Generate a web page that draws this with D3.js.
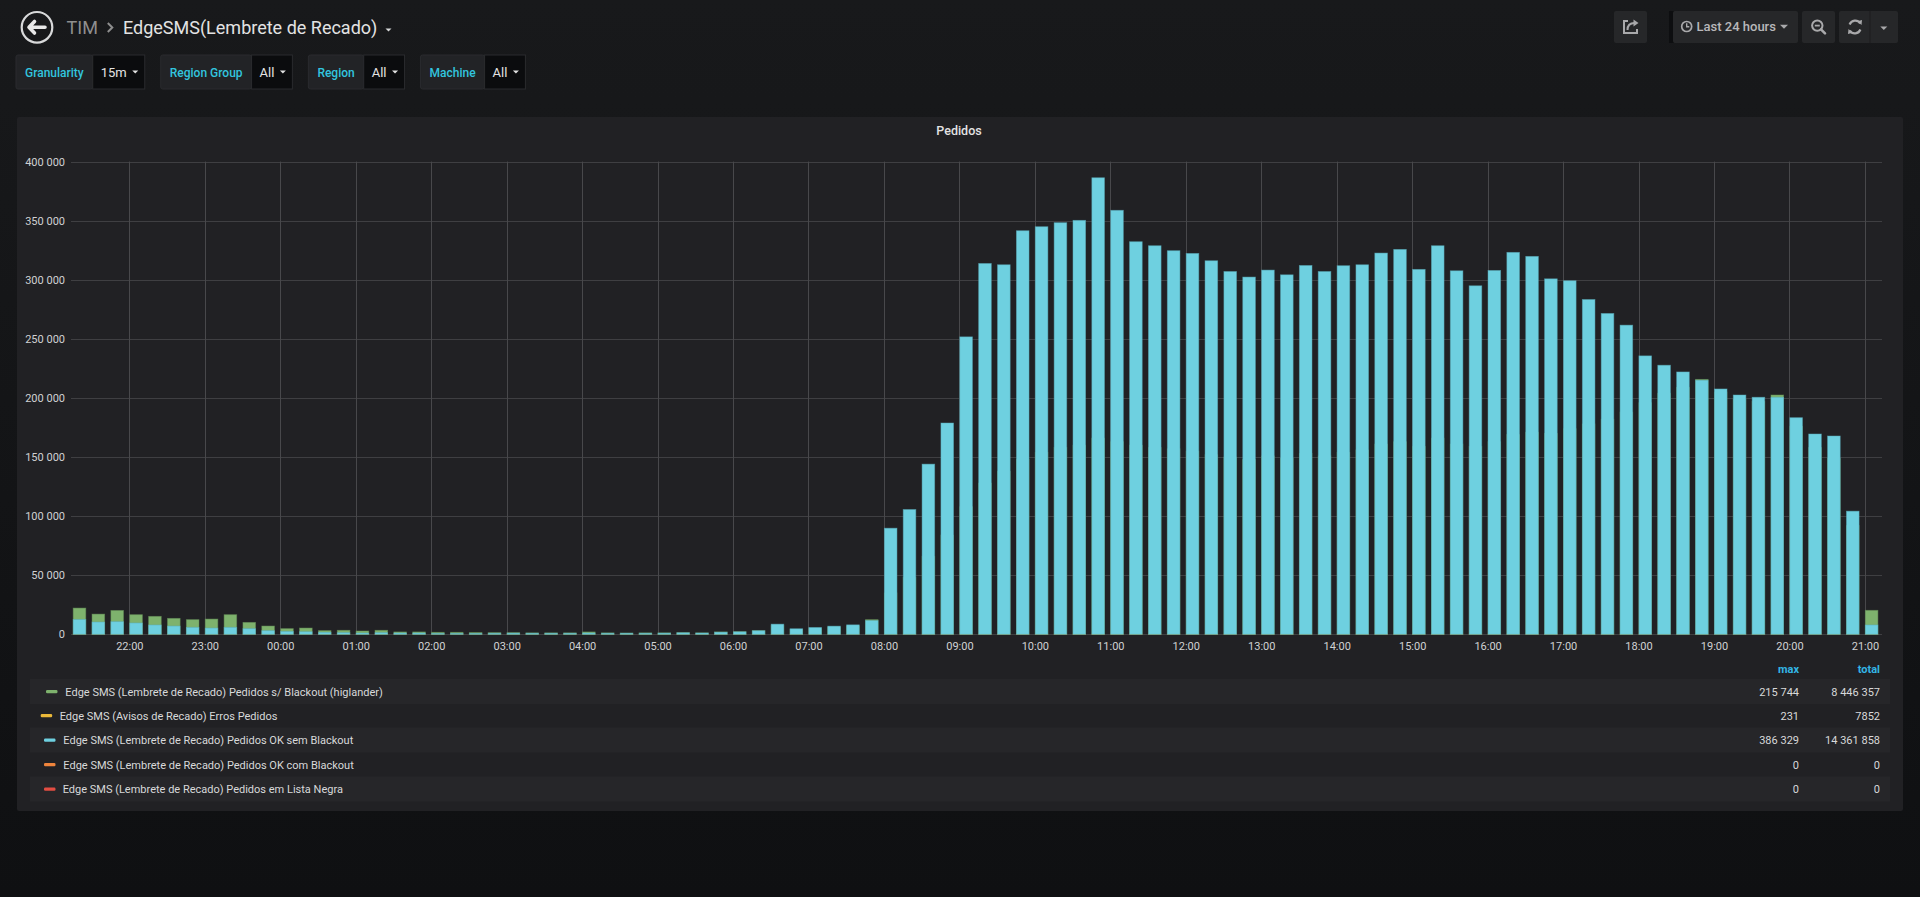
<!DOCTYPE html>
<html>
<head>
<meta charset="utf-8">
<script src="https://cdn.jsdelivr.net/npm/d3@7"></script>
<style>
  html, body { margin: 0; padding: 0; background: #141517; overflow: hidden; }
  svg { display: block; font-family: Roboto, "Noto Sans", sans-serif; }
</style>
</head>
<body>
<script>
// --- data (15m buckets, 21:15 -> 21:00 next day) ---
const startTime = new Date(2019, 0, 1, 21, 15)
const endTime = new Date(2019, 0, 2, 21, 0)

// Edge SMS (Lembrete de Recado) Pedidos s/ Blackout (higlander)
const semBlackoutHiglander = [
  22200, 17100, 20200, 16600, 15200, 13500, 12400, 12900, 16600, 10100, 7000,
  4800, 5300, 3100, 3400, 2800, 3400, 2000, 2000, 1700, 1700, 1500, 1400,
  1400, 1200, 1200, 1200, 2000, 1200, 1100, 1200, 1200, 1400, 1200, 2000,
  2200, 3100, 7400, 4100, 5000, 6100, 7200, 12400,
  35000, 48000, 66000, 84000,
  108000, 128000, 138000, 148000,
  154000, 158000, 160000, 166000,
  163000, 160000, 158000, 157000,
  155000, 152000, 150000, 148000,
  151000, 149000, 153000, 151000,
  154000, 156000, 161000, 163000,
  159000, 166000, 161000, 159000,
  163000, 169000, 171000, 170000,
  174000, 178000, 182000, 188000,
  196000, 204000, 209000, 215744,
  205000, 199000, 197000, 202500,
  176000, 158000, 149000, 92000,
  20300
]

// Edge SMS (Avisos de Recado) Erros Pedidos
const errosPedidos = [
  38, 31, 35, 29, 27, 24, 22, 23, 28, 19, 14,
  11, 10, 8, 8, 7, 8, 6, 6, 5, 5, 5, 5,
  5, 4, 4, 4, 6, 4, 4, 4, 4, 5, 4, 6,
  7, 9, 21, 12, 15, 18, 21, 30,
  40, 56, 84, 111, 148, 170, 173, 186, 181, 185, 190, 231,
  191, 176, 173, 170, 168, 164, 159, 155, 158, 156, 161, 158,
  160, 162, 167, 169, 158, 171, 157, 150, 158, 167, 165, 154,
  152, 142, 135, 129, 113, 109, 105, 100, 96, 93, 92, 92,
  82, 73, 72, 34, 5
]

// Edge SMS (Lembrete de Recado) Pedidos OK sem Blackout
const okSemBlackout = [
  12600, 10400, 10700, 9600, 7900, 7000, 5900, 5300, 5900, 4800, 3100,
  2500, 2200, 1700, 1400, 1100, 1400, 1100, 1100, 800, 800, 800, 900,
  1000, 900, 900, 900, 1100, 900, 900, 900, 1000, 1300, 1100, 1800,
  2100, 3000, 8600, 4700, 5800, 6900, 8000, 11600,
  89800, 105600, 144000, 178800,
  251700, 313800, 312700, 341500,
  344900, 348300, 350300, 386329,
  358800, 332200, 328800, 324600,
  322300, 316100, 307000, 302300,
  308200, 304200, 312100, 307000,
  311900, 312700, 322600, 325700,
  308800, 328800, 307600, 294900,
  307900, 323200, 319800, 300800,
  299200, 283300, 271500, 261600,
  235600, 227700, 222000, 215000,
  207600, 202500, 200600, 200600,
  183300, 169500, 167800, 104200,
  7900
]

// Edge SMS (Lembrete de Recado) Pedidos OK com Blackout
const okComBlackout = [
  0, 0, 0, 0, 0, 0, 0, 0, 0, 0, 0, 0, 0, 0, 0, 0, 0, 0, 0, 0, 0, 0, 0, 0,
  0, 0, 0, 0, 0, 0, 0, 0, 0, 0, 0, 0, 0, 0, 0, 0, 0, 0, 0, 0, 0, 0, 0, 0,
  0, 0, 0, 0, 0, 0, 0, 0, 0, 0, 0, 0, 0, 0, 0, 0, 0, 0, 0, 0, 0, 0, 0, 0,
  0, 0, 0, 0, 0, 0, 0, 0, 0, 0, 0, 0, 0, 0, 0, 0, 0, 0, 0, 0, 0, 0, 0, 0
]

// Edge SMS (Lembrete de Recado) Pedidos em Lista Negra
const listaNegra = [
  0, 0, 0, 0, 0, 0, 0, 0, 0, 0, 0, 0, 0, 0, 0, 0, 0, 0, 0, 0, 0, 0, 0, 0,
  0, 0, 0, 0, 0, 0, 0, 0, 0, 0, 0, 0, 0, 0, 0, 0, 0, 0, 0, 0, 0, 0, 0, 0,
  0, 0, 0, 0, 0, 0, 0, 0, 0, 0, 0, 0, 0, 0, 0, 0, 0, 0, 0, 0, 0, 0, 0, 0,
  0, 0, 0, 0, 0, 0, 0, 0, 0, 0, 0, 0, 0, 0, 0, 0, 0, 0, 0, 0, 0, 0, 0, 0
]

const seriesNames = [
  'Edge SMS (Lembrete de Recado) Pedidos s/ Blackout (higlander)',
  'Edge SMS (Avisos de Recado) Erros Pedidos',
  'Edge SMS (Lembrete de Recado) Pedidos OK sem Blackout',
  'Edge SMS (Lembrete de Recado) Pedidos OK com Blackout',
  'Edge SMS (Lembrete de Recado) Pedidos em Lista Negra'
]
const seriesColors = ['#7EB26D', '#EAB839', '#6ED0E0', '#EF843C', '#E24D42']
const legendMax = ['215 744', '231', '386 329', '0', '0']
const legendTotal = ['8 446 357', '7852', '14 361 858', '0', '0']
const yTicks = [0, 50000, 100000, 150000, 200000, 250000, 300000, 350000, 400000]

const variables = [
  { label: 'Granularity', value: '15m' },
  { label: 'Region Group', value: 'All' },
  { label: 'Region', value: 'All' },
  { label: 'Machine', value: 'All' }
]

// --- page ---
const W = 1920
const H = 897
const svg = d3.select('body').append('svg')
  .attr('width', W)
  .attr('height', H)

const defs = svg.append('defs')
const bgGrad = defs.append('linearGradient').attr('id', 'bg').attr('x1', 0).attr('x2', 0).attr('y1', 0).attr('y2', 1)
bgGrad.append('stop').attr('offset', '0%').attr('stop-color', '#18191b')
bgGrad.append('stop').attr('offset', '100%').attr('stop-color', '#0f1012')
svg.append('rect').attr('width', W).attr('height', H).attr('fill', 'url(#bg)')

// header: back button + breadcrumb
const nav = svg.append('g')
nav.append('circle').attr('cx', 37).attr('cy', 27.3).attr('r', 15.3)
  .attr('fill', 'none').attr('stroke', '#d8d9da').attr('stroke-width', 2.2)
nav.append('path').attr('d', 'M34.5,21.5 L29,27.3 L34.5,33 M29.5,27.3 H45')
  .attr('fill', 'none').attr('stroke', '#e8e8e8').attr('stroke-width', 3.6)
  .attr('stroke-linejoin', 'round').attr('stroke-linecap', 'round')
nav.append('text').attr('x', 66.5).attr('y', 33.5).attr('font-size', 18)
  .attr('fill', '#8e8e8e').text('TIM')
nav.append('path').attr('d', 'M107.8,23 L112.3,27.5 L107.8,32')
  .attr('fill', 'none').attr('stroke', '#8e8e8e').attr('stroke-width', 2)
nav.append('text').attr('x', 123).attr('y', 33.5).attr('font-size', 18)
  .attr('fill', '#e3e3e3').text('EdgeSMS(Lembrete de Recado)')
nav.append('path').attr('d', 'M385.5,28.6 L391.5,28.6 L388.5,31.6 Z').attr('fill', '#d8d9da')

// template variables row
let vx = 16
variables.forEach(v => {
  const g = svg.append('g')
  const lbl = g.append('text').attr('x', vx + 9).attr('y', 76.5)
    .attr('font-size', 12).attr('font-weight', 500).attr('fill', '#32c5df').text(v.label)
  const lw = lbl.node().getComputedTextLength() + 18
  g.insert('rect', 'text').attr('x', vx).attr('y', 55).attr('width', lw).attr('height', 34)
    .attr('rx', 2).attr('fill', '#222326').attr('stroke', '#2a2b2e')
  const val = g.append('text').attr('x', vx + lw + 8).attr('y', 77)
    .attr('font-size', 13).attr('fill', '#e3e3e3').text(v.value)
  const tw = val.node().getComputedTextLength()
  const bw = tw + 26
  g.insert('rect', 'text:last-of-type').attr('x', vx + lw).attr('y', 55).attr('width', bw).attr('height', 34)
    .attr('fill', '#0b0c0e').attr('stroke', '#2a2b2e')
  const cx = vx + lw + 8 + tw + 5.5
  g.append('path').attr('d', `M${cx},70.5 L${cx + 6},70.5 L${cx + 3},73.5 Z`).attr('fill', '#e3e3e3')
  vx += lw + bw + 16
})

// top right buttons
const btnFill = '#262729'
const iconCol = '#a9a9ab'
const btns = svg.append('g')
btns.append('rect').attr('x', 1614).attr('y', 11).attr('width', 33).attr('height', 32).attr('rx', 2).attr('fill', btnFill)
btns.append('path').attr('d', 'M1628,21 H1624 V33 H1637 V29')
  .attr('fill', 'none').attr('stroke', iconCol).attr('stroke-width', 2)
btns.append('path').attr('d', 'M1627.5,30 C1627.5,25 1630,23 1634.5,23')
  .attr('fill', 'none').attr('stroke', iconCol).attr('stroke-width', 2)
btns.append('path').attr('d', 'M1633.5,19.5 L1638.5,23 L1633.5,26.5 Z').attr('fill', iconCol)

btns.append('rect').attr('x', 1669).attr('y', 11).attr('width', 5).attr('height', 32).attr('fill', '#0d0e10')
btns.append('rect').attr('x', 1673).attr('y', 11).attr('width', 125).attr('height', 32).attr('rx', 2).attr('fill', btnFill)
btns.append('circle').attr('cx', 1686.7).attr('cy', 26.5).attr('r', 5)
  .attr('fill', 'none').attr('stroke', iconCol).attr('stroke-width', 1.7)
btns.append('path').attr('d', 'M1686.7,23.3 V26.7 H1689.3')
  .attr('fill', 'none').attr('stroke', iconCol).attr('stroke-width', 1.4)
btns.append('text').attr('x', 1696.5).attr('y', 31.2).attr('font-size', 13).attr('font-weight', 500)
  .attr('fill', '#b8b8ba').text('Last 24 hours')
btns.append('path').attr('d', 'M1780,24.8 L1788,24.8 L1784,28.8 Z').attr('fill', iconCol)

btns.append('rect').attr('x', 1802).attr('y', 11).attr('width', 33).attr('height', 32).attr('rx', 2).attr('fill', btnFill)
btns.append('circle').attr('cx', 1817.3).attr('cy', 25.6).attr('r', 5.2)
  .attr('fill', 'none').attr('stroke', iconCol).attr('stroke-width', 2)
btns.append('path').attr('d', 'M1821,29.3 L1825,33.3').attr('stroke', iconCol).attr('stroke-width', 2.6).attr('stroke-linecap', 'round')
btns.append('path').attr('d', 'M1814.8,25.6 H1819.8').attr('stroke', iconCol).attr('stroke-width', 1.8)

btns.append('rect').attr('x', 1839).attr('y', 11).attr('width', 59).attr('height', 32).attr('rx', 2).attr('fill', btnFill)
btns.append('line').attr('x1', 1870).attr('x2', 1870).attr('y1', 11).attr('y2', 43).attr('stroke', '#1c1d1f')
btns.append('path').attr('d', 'M1849.6,24.5 A6,6 0 0 1 1860.2,23.3 M1860.4,29.5 A6,6 0 0 1 1849.8,30.7')
  .attr('fill', 'none').attr('stroke', iconCol).attr('stroke-width', 2.2)
btns.append('path').attr('d', 'M1857.5,21.2 L1862,20 L1861.5,25 Z M1852.5,32.8 L1848,34 L1848.5,29 Z').attr('fill', iconCol)
btns.append('path').attr('d', 'M1880.3,26.5 L1887.3,26.5 L1883.8,30 Z').attr('fill', iconCol)

// --- panel ---
svg.append('rect').attr('x', 17).attr('y', 117).attr('width', 1886).attr('height', 694)
  .attr('rx', 2).attr('fill', '#212124')
svg.append('text').attr('x', 959).attr('y', 134.8).attr('text-anchor', 'middle')
  .attr('font-size', 12.5).attr('font-weight', 500).attr('fill', '#e3e3e3').text('Pedidos')

const plot = { left: 71, right: 1882, top: 161.6, bottom: 634.3 }
const times = d3.timeMinute.every(15).range(startTime, d3.timeMinute.offset(endTime, 1))
const x = d3.scaleTime()
  .domain([new Date(2019, 0, 1, 21, 13, 36), new Date(2019, 0, 2, 21, 13, 36)])
  .range([plot.left, plot.right])
const y = d3.scaleLinear().domain([0, 400000]).range([plot.bottom, plot.top])

const locale = d3.formatLocale({ decimal: '.', thousands: '\u00a0', grouping: [3], currency: ['', ''] })
const fmt = locale.format(',d')

const hours = d3.timeHour.every(1).range(new Date(2019, 0, 1, 22), new Date(2019, 0, 2, 21, 30))

// grid
const grid = svg.append('g')
grid.selectAll('.hgrid').data(yTicks).enter().append('line')
  .attr('x1', plot.left).attr('x2', plot.right)
  .attr('y1', d => Math.round(y(d)) + 0.5).attr('y2', d => Math.round(y(d)) + 0.5)
  .attr('stroke', '#3f3f42').attr('stroke-width', 1)
grid.selectAll('.vgrid').data(hours).enter().append('line')
  .attr('x1', d => Math.round(x(d)) + 0.5).attr('x2', d => Math.round(x(d)) + 0.5)
  .attr('y1', plot.top).attr('y2', plot.bottom)
  .attr('stroke', '#48484b').attr('stroke-width', 1)

// axes (labels only, like flot)
const yAxis = d3.axisLeft(y).tickValues(yTicks).tickFormat(fmt).tickSize(0).tickPadding(6)
const yg = svg.append('g').attr('transform', `translate(${plot.left},0)`).call(yAxis)
yg.select('.domain').remove()
yg.selectAll('text').attr('font-size', 11).attr('fill', '#d0d1d3').attr('font-family', 'Roboto')

const xAxis = d3.axisBottom(x).tickValues(hours).tickFormat(d3.timeFormat('%H:%M')).tickSize(0).tickPadding(8)
const xg = svg.append('g').attr('transform', `translate(0,${plot.bottom})`).call(xAxis)
xg.select('.domain').remove()
xg.selectAll('text').attr('font-size', 11).attr('fill', '#d0d1d3').attr('font-family', 'Roboto')

// bars: series drawn in order, overlapping (not stacked)
const seriesData = [semBlackoutHiglander, errosPedidos, okSemBlackout, okComBlackout, listaNegra]
const slotW = x(d3.timeMinute.offset(startTime, 15)) - x(startTime)
const barW = slotW * 0.67
const bars = svg.append('g')
seriesData.forEach((vals, si) => {
  const c = seriesColors[si]
  bars.append('g').selectAll('rect')
    .data(times.map((t, i) => ({ t, v: vals[i] })).filter(d => d.v > 0))
    .enter().append('rect')
      .attr('x', d => x(d.t) + 0.4)
      .attr('y', d => y(d.v))
      .attr('width', barW)
      .attr('height', d => y(0) - y(d.v))
      .attr('fill', c)
      .attr('stroke', d3.color(c).darker(0.6))
      .attr('stroke-opacity', 0.6)
      .attr('stroke-width', 0.8)
})

// --- legend table ---
const legend = svg.append('g')
legend.append('text').attr('x', 1799).attr('y', 672.5).attr('text-anchor', 'end')
  .attr('font-size', 11).attr('font-weight', 700).attr('fill', '#33b5e5').text('max')
legend.append('text').attr('x', 1880).attr('y', 672.5).attr('text-anchor', 'end')
  .attr('font-size', 11).attr('font-weight', 700).attr('fill', '#33b5e5').text('total')

const rowY = [691.5, 715.5, 740, 764.5, 789]
const swatchX = [46, 40.7, 44, 44, 44]
const nameX = [65.3, 59.7, 63.3, 63.3, 62.7]
seriesNames.forEach((name, i) => {
  const cy = rowY[i]
  if (i % 2 === 0) {
    legend.append('rect').attr('x', 30).attr('y', cy - 12.5).attr('width', 1860).attr('height', 25)
      .attr('fill', '#262629')
  }
  legend.append('rect').attr('x', swatchX[i]).attr('y', cy - 1.5).attr('width', 11.5).attr('height', 3.2)
    .attr('rx', 1.2).attr('fill', seriesColors[i])
  legend.append('text').attr('x', nameX[i]).attr('y', cy + 4).attr('font-size', 11)
    .attr('fill', '#d8d9da').text(name)
  legend.append('text').attr('x', 1799).attr('y', cy + 4).attr('text-anchor', 'end').attr('font-size', 11)
    .attr('fill', '#d8d9da').text(legendMax[i])
  legend.append('text').attr('x', 1880).attr('y', cy + 4).attr('text-anchor', 'end').attr('font-size', 11)
    .attr('fill', '#d8d9da').text(legendTotal[i])
})
</script>
</body>
</html>
